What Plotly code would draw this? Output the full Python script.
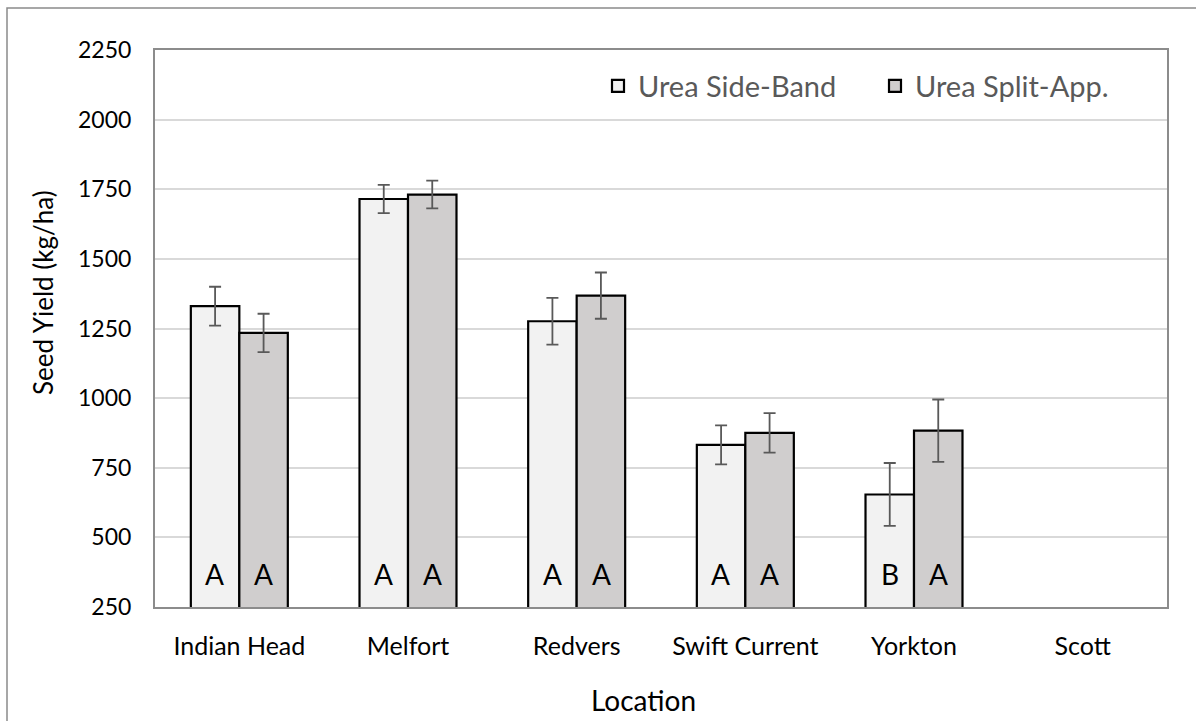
import plotly.graph_objects as go

# Seed yield by location for two urea application methods
locations = ["Indian Head", "Melfort", "Redvers", "Swift Current", "Yorkton", "Scott"]
side_band = [1330, 1715, 1276, 832, 654, None]
side_band_err = [70, 51, 84, 70, 113, None]
split_app = [1234, 1731, 1368, 875, 883, None]
split_app_err = [69, 50, 83, 71, 112, None]
side_band_letters = ["A", "A", "A", "A", "B", ""]
split_app_letters = ["A", "A", "A", "A", "A", ""]

y_ticks = [250, 500, 750, 1000, 1250, 1500, 1750, 2000, 2250]

FONT = "Lato, 'Open Sans', sans-serif"

# Page geometry (pixels) used to place paper-referenced items
W, H = 1196, 721
L, R, T, B = 155, 29, 50, 114
PW, PH = W - L - R, H - T - B


def px_x(p):
    return (p - L) / PW


def px_y(p):
    return (H - B - p) / PH


fig = go.Figure()

fig.add_trace(go.Bar(
    name="Urea Side-Band",
    x=locations,
    y=side_band,
    marker=dict(color="#f2f2f2", line=dict(color="black", width=2.2)),
    error_y=dict(type="data", array=side_band_err, visible=True,
                 color="#595959", thickness=1.8, width=6),
    offsetgroup="sb",
))

fig.add_trace(go.Bar(
    name="Urea Split-App.",
    x=locations,
    y=split_app,
    marker=dict(color="#d0cece", line=dict(color="black", width=2.2)),
    error_y=dict(type="data", array=split_app_err, visible=True,
                 color="#595959", thickness=1.8, width=6),
    offsetgroup="sa",
))

# Significance letters at the foot of each bar
annotations = []
for loc, a, b in zip(locations, side_band_letters, split_app_letters):
    for letter, shift in ((a, -24.5), (b, 24.5)):
        if letter:
            annotations.append(dict(
                x=loc, y=250, xref="x", yref="y", text=letter,
                showarrow=False, xshift=shift, yshift=14, yanchor="bottom",
                font=dict(family=FONT, size=28, color="black"),
            ))

# Axis titles
annotations.append(dict(
    x=px_x(643), y=px_y(700), xref="paper", yref="paper", text="Location",
    showarrow=False, xanchor="center", yanchor="middle",
    font=dict(family=FONT, size=28, color="black"),
))
annotations.append(dict(
    x=px_x(43), y=px_y(293), xref="paper", yref="paper", text="Seed Yield (kg/ha)",
    showarrow=False, xanchor="center", yanchor="middle", textangle=-90,
    font=dict(family=FONT, size=26, color="black"),
))

fig.update_layout(
    width=W, height=H,
    margin=dict(l=L, r=R, t=T, b=B, pad=0),
    paper_bgcolor="white",
    plot_bgcolor="white",
    barmode="group",
    bargap=0.425,
    bargroupgap=0,
    font=dict(family=FONT, color="black"),
    annotations=annotations,
    legend=dict(
        orientation="h",
        x=px_x(598), y=px_y(86), xanchor="left", yanchor="middle",
        font=dict(family=FONT, size=29, color="#595959"),
        bgcolor="rgba(0,0,0,0)",
        itemwidth=30,
        entrywidth=232, entrywidthmode="pixels",
        traceorder="normal",
    ),
    shapes=[dict(
        type="rect", xref="paper", yref="paper",
        x0=px_x(7), x1=px_x(1210), y0=px_y(740), y1=px_y(8),
        line=dict(color="#8a8a8a", width=1.5), fillcolor="rgba(0,0,0,0)",
        layer="below",
    )],
)

fig.update_xaxes(
    type="category",
    showgrid=False,
    showline=True, linecolor="#8c8c8c", linewidth=2, mirror=True,
    ticks="", ticklabelstandoff=16,
    tickfont=dict(family=FONT, size=25, color="black"),
)

fig.update_yaxes(
    range=[250, 2250],
    tickvals=y_ticks,
    showgrid=True, gridcolor="#d9d9d9", gridwidth=2,
    showline=True, linecolor="#8c8c8c", linewidth=2, mirror=True,
    zeroline=False,
    ticks="", ticklabelstandoff=17,
    tickfont=dict(family=FONT, size=23, color="black"),
)

fig.write_html("out.html")
